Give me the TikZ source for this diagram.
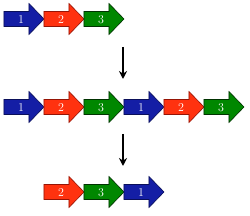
\documentclass[tikz,border=0pt]{standalone}
\usetikzlibrary{arrows.meta}
\definecolor{bfill}{RGB}{20,30,165}
\definecolor{bline}{RGB}{10,15,90}
\definecolor{rfill}{RGB}{255,50,15}
\definecolor{rline}{RGB}{150,20,5}
\definecolor{gfill}{RGB}{0,135,0}
\definecolor{gline}{RGB}{0,50,0}
\tikzset{
  arr/.pic={\path[pic actions] (0,-7.5) -- (25,-7.5) -- (25,-15.5) -- (40,0) -- (25,15.5) -- (25,7.5) -- (0,7.5) -- cycle;},
  ablue/.style={fill=bfill,draw=bline,line width=0.6pt},
  ared/.style={fill=rfill,draw=rline,line width=0.6pt},
  agreen/.style={fill=gfill,draw=gline,line width=0.6pt},
  lbl/.style={text=white,font=\fontsize{12}{12}\selectfont,inner sep=0pt},
  down/.style={-{Stealth[length=8pt,width=8pt]},line width=1.6pt,black}
}
\begin{document}
\begin{tikzpicture}[x=1pt,y=-1pt]
\useasboundingbox (0,0) rectangle (250,216);
% row 1
\pic[ablue] at (4,19) {arr};
\pic[ared] at (44,19) {arr};
\pic[agreen] at (84,19) {arr};
\node[lbl] (t1) at (21,19.5) {1};
\node[lbl] (t2) at (61,19.5) {2};
\node[lbl] (t3) at (101,19.5) {3};
% row 2
\pic[ablue] at (4,107) {arr};
\pic[ared] at (44,107) {arr};
\pic[agreen] at (84,107) {arr};
\pic[ablue] at (124,107) {arr};
\pic[ared] at (164,107) {arr};
\pic[agreen] at (204,107) {arr};
\node[lbl] (m1) at (21,107.5) {1};
\node[lbl] (m2) at (61,107.5) {2};
\node[lbl] (m3) at (101,107.5) {3};
\node[lbl] (m4) at (141,107.5) {1};
\node[lbl] (m5) at (181,107.5) {2};
\node[lbl] (m6) at (221,107.5) {3};
% row 3
\pic[ared] at (44,192) {arr};
\pic[agreen] at (84,192) {arr};
\pic[ablue] at (124,192) {arr};
\node[lbl] (b1) at (61,192.5) {2};
\node[lbl] (b2) at (101,192.5) {3};
\node[lbl] (b3) at (141,192.5) {1};
% down arrows
\coordinate (d1s) at (123,47);
\coordinate (d1e) at (123,79);
\coordinate (d2s) at (123,134);
\coordinate (d2e) at (123,166);
\draw[down] (d1s) -- (d1e);
\draw[down] (d2s) -- (d2e);
\end{tikzpicture}
\end{document}
